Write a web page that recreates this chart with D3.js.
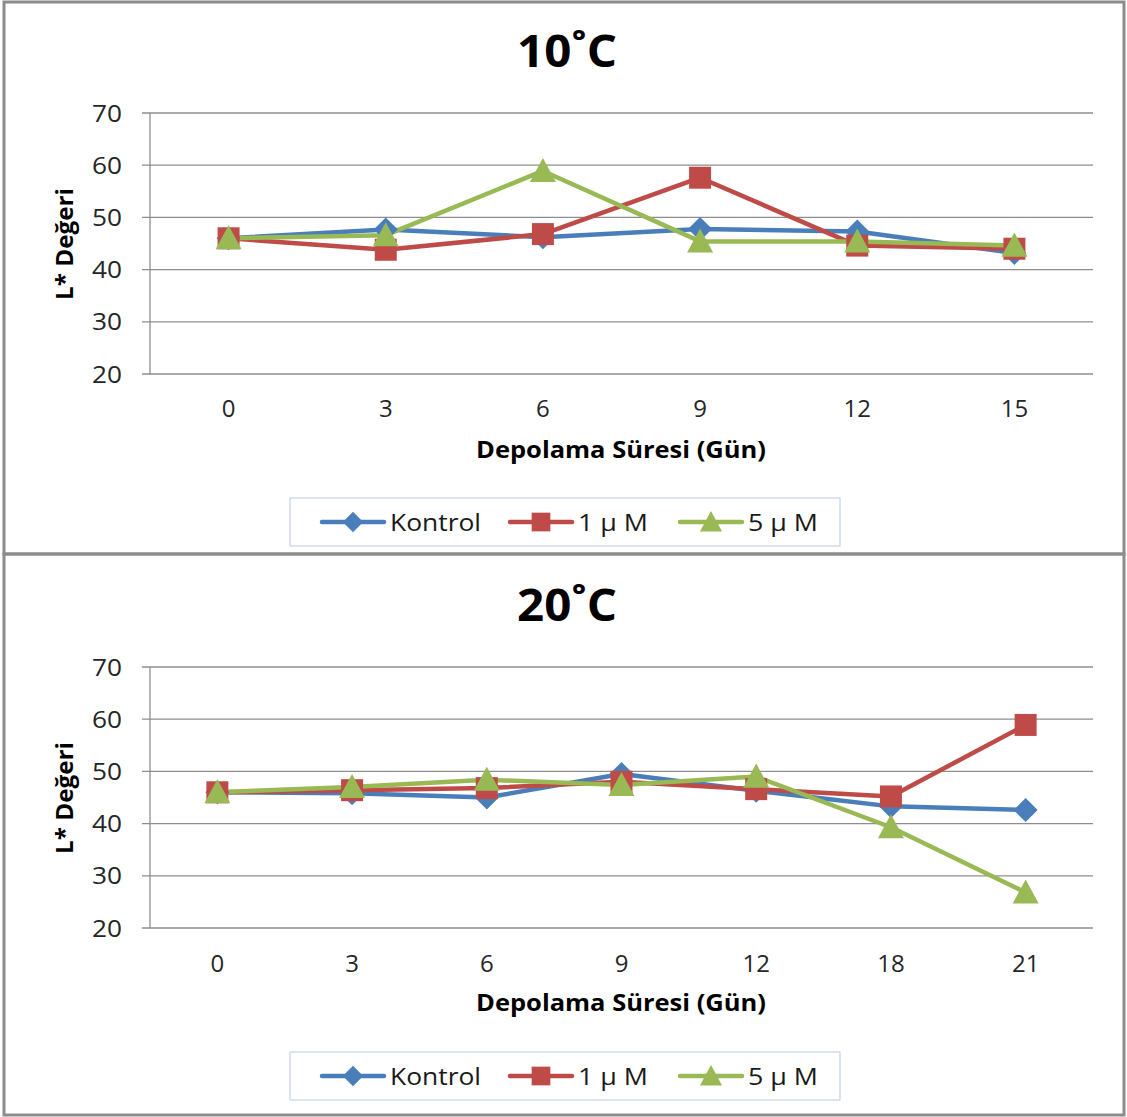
<!DOCTYPE html>
<html>
<head>
<meta charset="utf-8">
<script src="https://cdn.jsdelivr.net/npm/d3@7"></script>
<style>
  body { margin:0; background:#fff; }
  svg text { font-family: "Open Sans", "DejaVu Sans", sans-serif; }
</style>
</head>
<body>
<div id="chart"></div>
<script>

// series names + colors
var seriesNames = ["Kontrol", "1 µ M", "5 µ M"];
var seriesColors = ["#4a7ebb", "#be4b48", "#98b954"];
var seriesShapes = ["diamond", "square", "triangle"];

// 10 C
var days10 = ["0", "3", "6", "9", "12", "15"];
var kontrol10 = [46.0, 47.7, 46.2, 47.8, 47.3, 43.2];
var oneMicro10 = [46.0, 43.8, 46.8, 57.6, 44.6, 44.0];
var fiveMicro10 = [46.0, 46.6, 58.9, 45.4, 45.4, 44.6];

// 20 C
var days20 = ["0", "3", "6", "9", "12", "18", "21"];
var kontrol20 = [46.0, 45.8, 45.0, 49.5, 46.3, 43.3, 42.6];
var oneMicro20 = [46.0, 46.4, 46.8, 48.0, 46.6, 45.2, 58.9];
var fiveMicro20 = [46.0, 47.0, 48.4, 47.4, 49.0, 39.3, 26.8];

var yTicks = [20, 30, 40, 50, 60, 70];

var W = 1127, H = 1117;
var svg = d3.select("#chart").append("svg")
    .attr("width", W)
    .attr("height", H);

// Draws one panel
function drawPanel(top, opts){

	var g = svg.append("g").attr("transform", "translate(0," + top + ")");
	var plot = {left:150, right:1093, top:113, bottom:374};

	// panel frame
	g.append("rect")
		.attr("x", 4).attr("y", opts.frameTop)
		.attr("width", 1120).attr("height", opts.frameH)
		.attr("fill", "none")
		.attr("stroke", "#8c8c8c")
		.attr("stroke-width", 3);

	var x = d3.scaleBand().domain(opts.days).range([plot.left, plot.right]);
	var y = d3.scaleLinear().domain([20, 70]).range([plot.bottom, plot.top]);

	// grid lines
	g.append("g").selectAll("line").data(yTicks).enter().append("line")
		.attr("x1", plot.left - 8).attr("x2", plot.right)
		.attr("y1", function(d){ return y(d); })
		.attr("y2", function(d){ return y(d); })
		.attr("stroke", "#8e8e8e")
		.attr("stroke-width", 1.3);

	// y axis line
	g.append("line")
		.attr("x1", plot.left).attr("x2", plot.left)
		.attr("y1", plot.top).attr("y2", plot.bottom)
		.attr("stroke", "#8e8e8e").attr("stroke-width", 1.3);

	// y tick labels
	g.append("g").selectAll("text").data(yTicks).enter().append("text")
		.attr("x", 122).attr("y", function(d){ return y(d); })
		.attr("dy", "0.36em")
		.attr("text-anchor", "end")
		.attr("font-size", 24)
		.attr("textLength", 30).attr("lengthAdjust", "spacingAndGlyphs")
		.attr("fill", "#262626")
		.text(function(d){ return d; });

	// x tick labels
	g.append("g").selectAll("text").data(opts.days).enter().append("text")
		.attr("x", function(d){ return x(d) + x.bandwidth()/2; })
		.attr("y", opts.xTickY)
		.attr("text-anchor", "middle")
		.attr("font-size", 24)
		.attr("fill", "#262626")
		.text(function(d){ return d; });

	// title
	g.append("text")
		.attr("x", 567).attr("y", 67)
		.attr("text-anchor", "middle")
		.attr("font-size", 44)
		.attr("font-weight", "bold")
		.attr("textLength", 100).attr("lengthAdjust", "spacingAndGlyphs")
		.attr("fill", "#000")
		.text(opts.title);

	// axis labels
	g.append("text")
		.attr("x", 621).attr("y", opts.xLabelY)
		.attr("text-anchor", "middle")
		.attr("font-size", 24)
		.attr("font-weight", "bold")
		.attr("textLength", 290).attr("lengthAdjust", "spacingAndGlyphs")
		.text("Depolama Süresi (Gün)");
	g.append("text")
		.attr("transform", "translate(73,244) rotate(-90)")
		.attr("text-anchor", "middle")
		.attr("font-size", 24)
		.attr("font-weight", "bold")
		.attr("textLength", 112).attr("lengthAdjust", "spacingAndGlyphs")
		.text("L* Değeri");

	// lines + markers
	var line = d3.line()
		.x(function(d, i){ return x(opts.days[i]) + x.bandwidth()/2; })
		.y(function(d){ return y(d); });

	opts.series.forEach(function(values, s){
		g.append("path")
			.attr("d", line(values))
			.attr("fill", "none")
			.attr("stroke", seriesColors[s])
			.attr("stroke-width", 4.5)
			.attr("stroke-linejoin", "round");
	});
	opts.series.forEach(function(values, s){
		g.append("g").selectAll("path").data(values).enter().append("path")
			.attr("transform", function(d, i){
				return "translate(" + (x(opts.days[i]) + x.bandwidth()/2) + "," + y(d) + ")";
			})
			.attr("d", marker(seriesShapes[s], 1))
			.attr("fill", seriesColors[s]);
	});

	// legend
	var lg = g.append("g").attr("transform", "translate(290," + opts.legendY + ")");
	lg.append("rect")
		.attr("x", 0).attr("y", 0).attr("width", 550).attr("height", 48)
		.attr("fill", "#fff").attr("stroke", "#c3d3e6").attr("stroke-width", 1.2);
	var legX = [32, 220, 390];
	var legW = [91, 70, 70];
	seriesNames.forEach(function(name, s){
		var item = lg.append("g").attr("transform", "translate(" + legX[s] + ",24)");
		item.append("line")
			.attr("x1", 0).attr("x2", 62)
			.attr("stroke", seriesColors[s]).attr("stroke-width", 4.5)
			.attr("stroke-linecap", "round");
		item.append("path")
			.attr("transform", "translate(31,0)")
			.attr("d", marker(seriesShapes[s], 0.85))
			.attr("fill", seriesColors[s]);
		item.append("text")
			.attr("x", 68).attr("y", 0).attr("dy", "0.36em")
			.attr("font-size", 24)
			.attr("textLength", legW[s]).attr("lengthAdjust", "spacingAndGlyphs")
			.attr("fill", "#1a1a1a")
			.text(name);
	});
}

function marker(shape, k){
	if(shape == "diamond"){
		var r = 12*k;
		return "M0," + (-r) + "L" + r + ",0L0," + r + "L" + (-r) + ",0Z";
	}
	if(shape == "square"){
		var h = 11*k;
		return "M" + (-h) + "," + (-h) + "h" + (2*h) + "v" + (2*h) + "h" + (-2*h) + "Z";
	}
	var t = 13*k;
	return "M0," + (-t) + "L" + (t) + "," + (t*0.85) + "L" + (-t) + "," + (t*0.85) + "Z";
}

drawPanel(0, {
	title: "10˚C",
	days: days10,
	series: [kontrol10, oneMicro10, fiveMicro10],
	frameTop: 2, frameH: 552,
	xTickY: 417, xLabelY: 458, legendY: 498
});

drawPanel(554, {
	title: "20˚C",
	days: days20,
	series: [kontrol20, oneMicro20, fiveMicro20],
	frameTop: 0, frameH: 561,
	xTickY: 418, xLabelY: 457, legendY: 498
});

</script>
</body>
</html>
